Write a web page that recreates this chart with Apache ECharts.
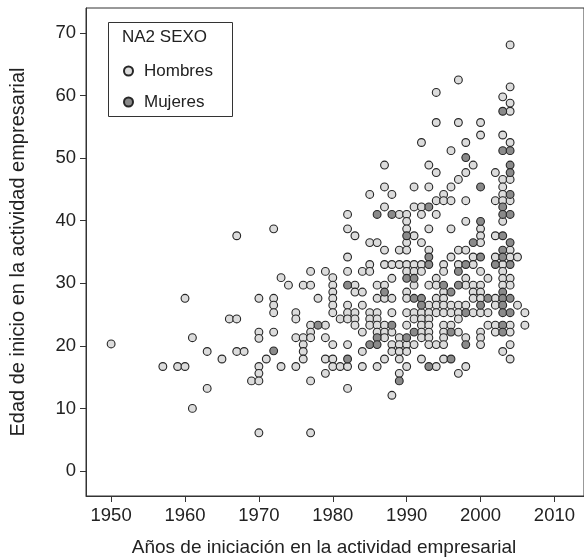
<!DOCTYPE html>
<html>
<head>
<meta charset="utf-8">
<script src="https://cdn.jsdelivr.net/npm/echarts@6/dist/echarts.min.js"></script>
<style>
  html, body { margin: 0; padding: 0; background: #ffffff; }
  #chart { width: 584px; height: 559px; }
</style>
</head>
<body>
<div id="chart"></div>
<script>
// Tick positions on each axis
const xTicks = [1950, 1960, 1970, 1980, 1990, 2000, 2010];
const yTicks = [0, 10, 20, 30, 40, 50, 60, 70];

// [año de iniciación, edad de inicio]
const hombres = [
  [1950, 20.3], [1957, 16.7], [1959, 16.7], [1960, 16.7], [1960, 27.6],
  [1961, 21.3], [1961, 10.0], [1963, 19.1], [1963, 13.2], [1965, 17.9],
  [1966, 24.3], [1967, 24.3], [1967, 37.6], [1967, 19.1], [1968, 19.1], [1969, 14.4],
  [1970, 27.6], [1970, 22.2], [1970, 21.2], [1970, 16.7], [1970, 15.6], [1970, 14.4], [1970, 6.1],
  [1971, 17.9],
  [1972, 38.7], [1972, 27.6], [1972, 26.5], [1972, 25.3], [1972, 22.2],
  [1973, 16.7], [1973, 30.9], [1974, 29.7],
  [1975, 25.3], [1975, 24.3], [1975, 21.3], [1975, 16.7],
  [1976, 21.3], [1976, 20.2], [1976, 19.1], [1976, 17.9], [1976, 29.7],
  [1977, 31.9], [1977, 29.7], [1977, 23.3], [1977, 22.2], [1977, 21.3], [1977, 14.4], [1977, 6.1],
  [1978, 27.6],
  [1979, 31.9], [1979, 21.3], [1979, 17.9], [1979, 15.6], [1979, 23.3],
  [1980, 30.9], [1980, 29.7], [1980, 28.6], [1980, 27.6], [1980, 26.5], [1980, 25.3], [1980, 20.2], [1980, 17.9], [1980, 16.7],
  [1981, 24.3], [1981, 16.7],
  [1982, 41.0], [1982, 38.7], [1982, 34.2], [1982, 31.9], [1982, 26.5], [1982, 25.3], [1982, 24.3], [1982, 20.2], [1982, 16.7], [1982, 13.2],
  [1983, 37.6], [1983, 29.7], [1983, 28.6], [1983, 25.3], [1983, 24.3], [1983, 23.3],
  [1984, 31.9], [1984, 28.6], [1984, 26.5], [1984, 22.2], [1984, 19.1], [1984, 16.7],
  [1985, 44.2], [1985, 36.5], [1985, 33.0], [1985, 31.9], [1985, 25.3], [1985, 24.3], [1985, 23.3],
  [1986, 36.5], [1986, 29.7], [1986, 27.6], [1986, 25.3], [1986, 24.3], [1986, 23.3], [1986, 22.2], [1986, 16.7],
  [1987, 48.9], [1987, 45.4], [1987, 42.2], [1987, 35.3], [1987, 33.0], [1987, 29.7], [1987, 27.6], [1987, 23.3], [1987, 22.2], [1987, 21.3], [1987, 17.9],
  [1988, 44.2], [1988, 33.0], [1988, 30.8], [1988, 27.6], [1988, 25.3], [1988, 22.2], [1988, 20.2], [1988, 19.1], [1988, 12.1],
  [1989, 41.0], [1989, 35.3], [1989, 33.0], [1989, 21.3], [1989, 20.2], [1989, 19.1], [1989, 17.9], [1989, 15.6],
  [1990, 41.0], [1990, 39.9], [1990, 38.7], [1990, 36.5], [1990, 35.3], [1990, 33.0], [1990, 31.9], [1990, 28.6], [1990, 27.6], [1990, 25.3], [1990, 23.3], [1990, 20.2], [1990, 19.1], [1990, 16.7],
  [1991, 45.4], [1991, 42.2], [1991, 37.6], [1991, 33.0], [1991, 31.9], [1991, 29.7], [1991, 25.3], [1991, 24.3], [1991, 20.2],
  [1992, 52.5], [1992, 42.2], [1992, 41.0], [1992, 36.5], [1992, 33.0], [1992, 31.9], [1992, 25.3], [1992, 24.3], [1992, 23.3], [1992, 22.2], [1992, 21.3], [1992, 17.9],
  [1993, 48.9], [1993, 45.4], [1993, 38.7], [1993, 35.3], [1993, 29.7], [1993, 26.5], [1993, 25.3], [1993, 24.3], [1993, 23.3], [1993, 22.2], [1993, 21.3], [1993, 20.2],
  [1994, 60.5], [1994, 55.7], [1994, 47.7], [1994, 43.2], [1994, 41.0], [1994, 30.8], [1994, 29.7], [1994, 27.6], [1994, 26.5], [1994, 25.3], [1994, 20.2], [1994, 16.7],
  [1995, 44.2], [1995, 43.2], [1995, 33.0], [1995, 31.9], [1995, 28.6], [1995, 27.6], [1995, 26.5], [1995, 25.3], [1995, 23.3], [1995, 22.2], [1995, 21.3], [1995, 20.2], [1995, 17.9],
  [1996, 51.2], [1996, 45.4], [1996, 43.2], [1996, 38.7], [1996, 34.2], [1996, 26.5], [1996, 25.3], [1996, 23.3],
  [1997, 62.5], [1997, 55.7], [1997, 46.6], [1997, 35.3], [1997, 33.0], [1997, 26.5], [1997, 25.3], [1997, 24.3], [1997, 22.2], [1997, 15.6],
  [1998, 52.5], [1998, 47.7], [1998, 43.2], [1998, 39.9], [1998, 35.3], [1998, 30.8], [1998, 29.7], [1998, 26.5], [1998, 21.3], [1998, 16.7],
  [1999, 48.9], [1999, 34.2], [1999, 33.0], [1999, 29.7], [1999, 28.6], [1999, 27.6], [1999, 25.3],
  [2000, 55.7], [2000, 53.7], [2000, 38.7], [2000, 37.6], [2000, 36.5], [2000, 31.9], [2000, 29.7], [2000, 28.6], [2000, 27.6], [2000, 25.3], [2000, 22.2], [2000, 21.3], [2000, 20.2],
  [2001, 30.8], [2001, 25.3], [2001, 23.3],
  [2002, 47.7], [2002, 43.2], [2002, 37.6], [2002, 34.2], [2002, 27.6], [2002, 26.5], [2002, 23.3], [2002, 22.2],
  [2003, 59.8], [2003, 53.7], [2003, 46.6], [2003, 45.4], [2003, 44.2], [2003, 43.2], [2003, 39.9], [2003, 33.0], [2003, 31.9], [2003, 30.8], [2003, 29.7], [2003, 19.1],
  [2004, 68.1], [2004, 61.4], [2004, 58.8], [2004, 57.5], [2004, 52.5], [2004, 46.6], [2004, 43.2], [2004, 35.3], [2004, 34.2], [2004, 30.8], [2004, 29.7], [2004, 23.3], [2004, 22.2], [2004, 20.2], [2004, 17.9],
  [2005, 34.2], [2005, 26.5],
  [2006, 25.3], [2006, 23.3]
];

const mujeres = [
  [1972, 19.2], [1978, 23.3], [1982, 29.7], [1982, 17.9], [1985, 20.2],
  [1986, 41.0], [1986, 21.3], [1986, 20.2], [1987, 28.6], [1988, 41.0], [1988, 23.3], [1989, 14.4],
  [1990, 37.6], [1990, 30.8], [1990, 21.3],
  [1991, 30.8], [1991, 27.6], [1991, 22.2],
  [1992, 27.6], [1992, 26.5],
  [1993, 42.2], [1993, 34.2], [1993, 33.0], [1993, 16.7],
  [1995, 29.7], [1996, 28.6], [1996, 22.2], [1996, 17.9],
  [1997, 31.9], [1997, 29.7],
  [1998, 50.1], [1998, 33.0], [1998, 25.3], [1998, 20.2],
  [1999, 36.5],
  [2000, 45.4], [2000, 39.9], [2000, 34.2], [2000, 26.5],
  [2001, 27.6], [2002, 33.0],
  [2003, 57.5], [2003, 51.2], [2003, 42.2], [2003, 41.0], [2003, 37.6], [2003, 35.3], [2003, 34.2], [2003, 28.6], [2003, 27.6], [2003, 26.5], [2003, 25.3], [2003, 23.3], [2003, 22.2],
  [2004, 51.2], [2004, 48.9], [2004, 47.7], [2004, 44.2], [2004, 41.0], [2004, 36.5], [2004, 33.0], [2004, 27.6], [2004, 25.3]
];

const FONT = '"Liberation Sans", Arial, Helvetica, sans-serif';
const INK = '#222222';
const LIGHT = '#dcdcdc';
const DARK = '#8a8a8a';

const chart = echarts.init(document.getElementById('chart'), null, { renderer: 'canvas' });

const markerStyle = (fill) => ({ color: fill, borderColor: '#262626', borderWidth: 1.1, opacity: 1 });

chart.setOption({
  animation: false,
  backgroundColor: '#ffffff',
  grid: {
    left: 86, top: 8, right: -8, bottom: 63,
    show: true, borderColor: '#333333', borderWidth: 1, backgroundColor: 'transparent'
  },
  xAxis: {
    type: 'value', min: 1946.6, max: 2014,
    axisLine: { show: true, onZero: false, lineStyle: { color: '#333333', width: 1 } },
    axisTick: { show: true, customValues: xTicks, length: 6, lineStyle: { color: '#333333' } },
    axisLabel: { customValues: xTicks, formatter: (v) => String(v),
                 fontSize: 18.5, fontFamily: FONT, color: INK, margin: 10 },
    splitLine: { show: false }
  },
  yAxis: {
    type: 'value', min: -4, max: 74,
    axisLine: { show: true, onZero: false, lineStyle: { color: '#333333', width: 1 } },
    axisTick: { show: true, customValues: yTicks, length: 6, lineStyle: { color: '#333333' } },
    axisLabel: { customValues: yTicks, formatter: (v) => String(v),
                 fontSize: 18.5, fontFamily: FONT, color: INK, margin: 10 },
    splitLine: { show: false }
  },
  legend: {
    orient: 'vertical', left: 118, top: 56, z: 20,
    itemWidth: 21, itemHeight: 9, itemGap: 11,
    icon: 'circle',
    textStyle: { fontSize: 17, fontFamily: FONT, color: INK, lineHeight: 20 },
    data: ['Hombres', 'Mujeres']
  },
  graphic: [
    { type: 'rect', left: 108, top: 22, shape: { width: 124, height: 94 },
      style: { fill: '#ffffff', stroke: '#333333', lineWidth: 1 }, z: 1 },
    { type: 'text', left: 122, top: 29, z: 2,
      style: { text: 'NA2 SEXO', font: '17px ' + FONT, fill: INK } },
    { type: 'text', x: 324, y: 548, z: 2,
      style: { text: 'Años de iniciación en la actividad empresarial', font: '19px ' + FONT, fill: INK,
               align: 'center', verticalAlign: 'middle' } },
    { type: 'text', x: 18, y: 252, rotation: Math.PI / 2, z: 2,
      style: { text: 'Edad de inicio en la actividad empresarial', font: '20px ' + FONT, fill: INK,
               align: 'center', verticalAlign: 'middle' } }
  ],
  series: [
    { name: 'Hombres', type: 'scatter', data: hombres, symbol: 'circle', symbolSize: 7.8,
      itemStyle: markerStyle(LIGHT), z: 2 },
    { name: 'Mujeres', type: 'scatter', data: mujeres, symbol: 'circle', symbolSize: 7.8,
      itemStyle: markerStyle(DARK), z: 3 }
  ]
});
</script>
</body>
</html>
